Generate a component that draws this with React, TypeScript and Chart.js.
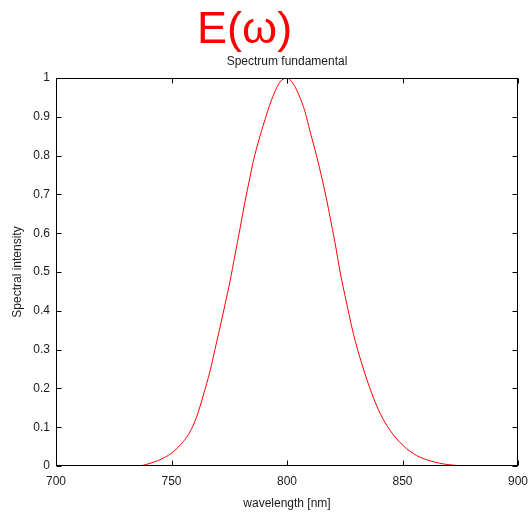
import { useEffect, useRef } from 'react';
import { Chart, registerables } from 'chart.js';

Chart.register(...registerables);

const wavelengths = [
  700, 735.5, 740.7, 746.4, 750.8, 755.1, 758.0, 760.9, 763.8, 766.7, 768.8,
  771.7, 773.6, 775.3, 777.5, 779.7, 781.8, 784.0, 785.4, 788.3, 789.7, 793.4,
  797.0, 800.0, 802.7, 805.6, 807.8, 810.0, 812.9, 815.0, 817.2, 818.6, 820.8,
  823.0, 825.8, 828.7, 832.3, 836.7, 840.3, 844.6, 850.4, 856.1, 863.3, 869.1,
  874.2, 876.0, 900,
];
const intensities = [
  0, 0, 0.007, 0.02, 0.037, 0.063, 0.088, 0.127, 0.183, 0.245, 0.3,
  0.376, 0.428, 0.475, 0.544, 0.613, 0.681, 0.745, 0.785, 0.85, 0.878, 0.945,
  0.99, 1.0, 0.985, 0.95, 0.913, 0.862, 0.797, 0.745, 0.685, 0.643, 0.575,
  0.5, 0.42, 0.342, 0.265, 0.187, 0.136, 0.092, 0.052, 0.027, 0.011, 0.004,
  0.001, 0, 0,
];
const xTicks = [700, 750, 800, 850, 900];
const yTicks = [0, 0.1, 0.2, 0.3, 0.4, 0.5, 0.6, 0.7, 0.8, 0.9, 1];

const mainTitle = 'E(\u03c9)';
const subTitle = 'Spectrum fundamental';
const xLabel = 'wavelength [nm]';
const yLabel = 'Spectral intensity';

export default function App() {
  const ref = useRef<HTMLCanvasElement>(null);

  useEffect(() => {
    if (!ref.current) return;
    const family = "'Liberation Sans', Arial, Helvetica, sans-serif";
    const textColor = '#1a1a1a';

    const decor = {
      id: 'decor',
      afterDraw(chart: any) {
        const { ctx, chartArea: a, scales } = chart;
        ctx.save();
        ctx.strokeStyle = '#000';
        ctx.lineWidth = 1;
        const L = Math.round(a.left) + 0.5;
        const R = Math.round(a.right) - 0.5;
        const T = Math.round(a.top) + 0.5;
        const B = Math.round(a.bottom) - 0.5;
        ctx.strokeRect(L, T, R - L, B - T);
        const len = 5;
        ctx.beginPath();
        for (const v of xTicks) {
          const px = Math.round(scales.x.getPixelForValue(v)) + 0.5;
          ctx.moveTo(px, B);
          ctx.lineTo(px, B - len);
          ctx.moveTo(px, T);
          ctx.lineTo(px, T + len);
        }
        for (const v of yTicks) {
          const py = Math.round(scales.y.getPixelForValue(v)) + 0.5;
          ctx.moveTo(L, py);
          ctx.lineTo(L + len, py);
          ctx.moveTo(R, py);
          ctx.lineTo(R - len, py);
        }
        ctx.stroke();

        ctx.fillStyle = '#ff0000';
        ctx.font = `45px ${family}`;
        ctx.textAlign = 'left';
        ctx.textBaseline = 'alphabetic';
        ctx.fillText(mainTitle, 197, 43);

        ctx.fillStyle = textColor;
        ctx.font = `12px ${family}`;
        ctx.textAlign = 'center';
        ctx.fillText(subTitle, (a.left + a.right) / 2, 65);
        ctx.restore();
      },
    };

    const fmt = (v: any) => String(Number(Number(v).toFixed(1)));

    const chart = new Chart(ref.current, {
      type: 'line',
      data: {
        datasets: [
          {
            data: wavelengths.map((w, i) => ({ x: w, y: intensities[i] })),
            borderColor: '#ff0000',
            borderWidth: 1,
            pointRadius: 0,
            cubicInterpolationMode: 'monotone',
            fill: false,
          },
        ],
      },
      options: {
        responsive: false,
        animation: false,
        events: [],
        layout: { padding: { top: 78, right: 13, left: 0, bottom: 0 } },
        plugins: {
          legend: { display: false },
          title: { display: false },
          tooltip: { enabled: false },
        },
        scales: {
          x: {
            type: 'linear',
            min: 700,
            max: 900,
            grid: { display: false, drawTicks: false },
            border: { display: false },
            afterBuildTicks: (s: any) => {
              s.ticks = xTicks.map((v) => ({ value: v }));
            },
            afterFit: (s: any) => {
              s.height = 51;
              s.paddingLeft = 0;
              s.paddingRight = 0;
            },
            ticks: {
              color: textColor,
              font: { family, size: 12 },
              padding: 8,
              maxRotation: 0,
              callback: fmt,
            },
            title: {
              display: true,
              text: xLabel,
              color: textColor,
              font: { family, size: 12 },
              padding: { top: 0, bottom: 6 },
            },
          },
          y: {
            type: 'linear',
            min: 0,
            max: 1,
            grid: { display: false, drawTicks: false },
            border: { display: false },
            afterBuildTicks: (s: any) => {
              s.ticks = yTicks.map((v) => ({ value: v }));
            },
            afterFit: (s: any) => {
              s.width = 56;
              s.paddingTop = 0;
              s.paddingBottom = 0;
            },
            ticks: {
              color: textColor,
              font: { family, size: 12 },
              padding: 6,
              callback: fmt,
            },
            title: {
              display: true,
              text: yLabel,
              color: textColor,
              font: { family, size: 12 },
              padding: { top: 10, bottom: 0 },
            },
          },
        },
      },
      plugins: [decor],
    });
    return () => chart.destroy();
  }, []);

  return (
    <div style={{ position: 'absolute', left: 0, top: 0, width: 531, height: 517, background: '#fff' }}>
      <canvas ref={ref} width={531} height={517} style={{ display: 'block' }} />
    </div>
  );
}
